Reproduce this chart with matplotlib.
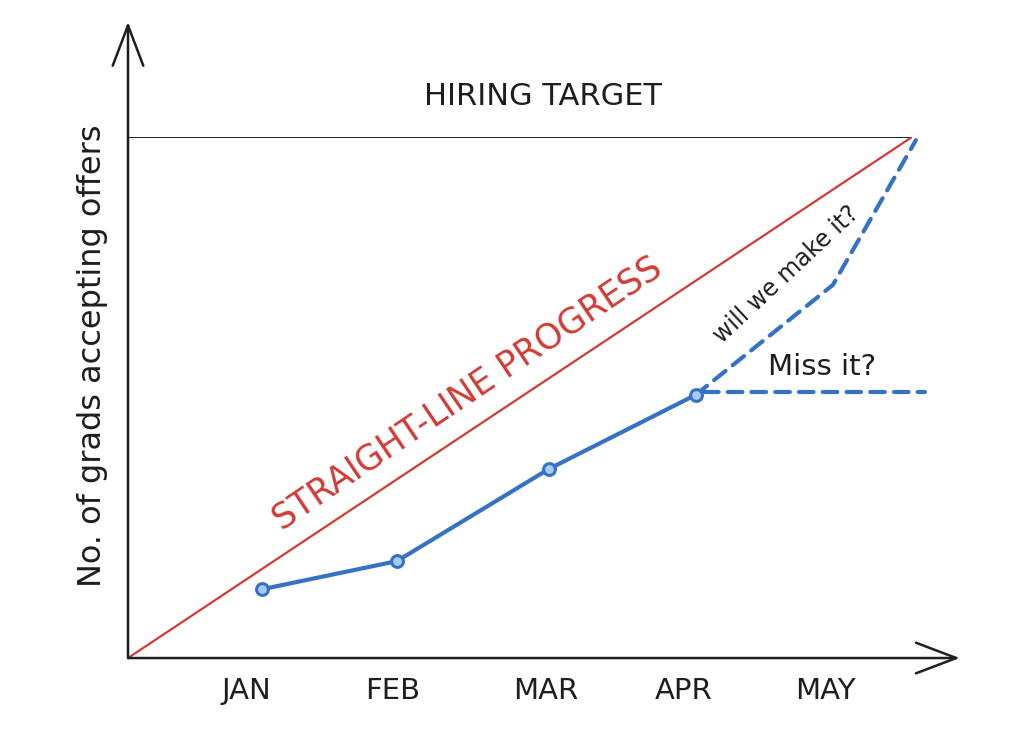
import numpy as np
import matplotlib.pyplot as plt

# progress through the hiring season (0-100) and % of hiring target (0-100)
months = ['JAN', 'FEB', 'MAR', 'APR', 'MAY']
month_label_x = [15.1, 33.7, 53.3, 70.9, 89.0]

actual_x = [17.1, 34.3, 53.7, 72.4]
actual_y = [13.2, 18.6, 36.3, 50.5]

make_it_x = [72.4, 89.9, 100.5]
make_it_y = [50.5, 71.6, 99.4]

miss_it_x = [73.5, 101.7]
miss_it_y = [51.0, 51.0]

target = 100
straight_x = [0, 100]
straight_y = [0, 100]

red = '#d03b35'
blue = '#3572c6'
light_blue = '#a8cbf2'
ink = '#1e1e1e'

fig = plt.figure(figsize=(10.24, 7.34), dpi=100)
ax = fig.add_axes([0.125, 0.1035, 0.7656, 0.7098])
ax.set_xlim(0, 100)
ax.set_ylim(0, 100)
for s in ax.spines.values():
    s.set_visible(False)
ax.set_yticks([])

# axes drawn as arrows
arrow = dict(arrowstyle='->, head_length=1.0, head_width=0.38', lw=1.8, color=ink,
             mutation_scale=29, shrinkA=0, shrinkB=0)
ax.annotate('', xy=(0, 122.1), xytext=(0, 0), arrowprops=arrow, annotation_clip=False)
ax.annotate('', xy=(106.1, 0), xytext=(0, 0), arrowprops=arrow, annotation_clip=False)

# hiring target
ax.axhline(target, color=ink, lw=1.4)
ax.text(52.9, 107.7, 'HIRING TARGET', ha='center', va='center', fontsize=22,
        color=ink, clip_on=False)

# straight-line progress
ax.plot(straight_x, straight_y, color=red, lw=1.6)
ax.text(43.3, 50.8, 'STRAIGHT-LINE PROGRESS', ha='center', va='center', fontsize=25,
        color=red, rotation=34)

# projections
dash = (0, (3.5, 2.2))
ax.plot(make_it_x, make_it_y, color=blue, lw=3, ls=dash, dash_capstyle='round', clip_on=False)
ax.plot(miss_it_x, miss_it_y, color=blue, lw=3, ls=dash, dash_capstyle='round', clip_on=False)
ax.text(84.0, 73.6, 'will we make it?', ha='center', va='center', fontsize=17,
        color=ink, rotation=43)
ax.text(88.5, 55.8, 'Miss it?', ha='center', va='center', fontsize=21, color=ink)

# actual progress
ax.plot(actual_x, actual_y, color=blue, lw=3, marker='o', markersize=8.5,
        markerfacecolor=light_blue, markeredgecolor=blue, markeredgewidth=2.2)

ax.set_xticks(month_label_x, months)
ax.tick_params(axis='x', length=0, pad=14, labelsize=21, labelcolor=ink)

fig.text(0.09, 0.516, 'No. of grads accepting offers', rotation=90, ha='center',
         va='center', fontsize=23, color=ink)

fig.savefig('out.png', dpi=100, facecolor='white')
